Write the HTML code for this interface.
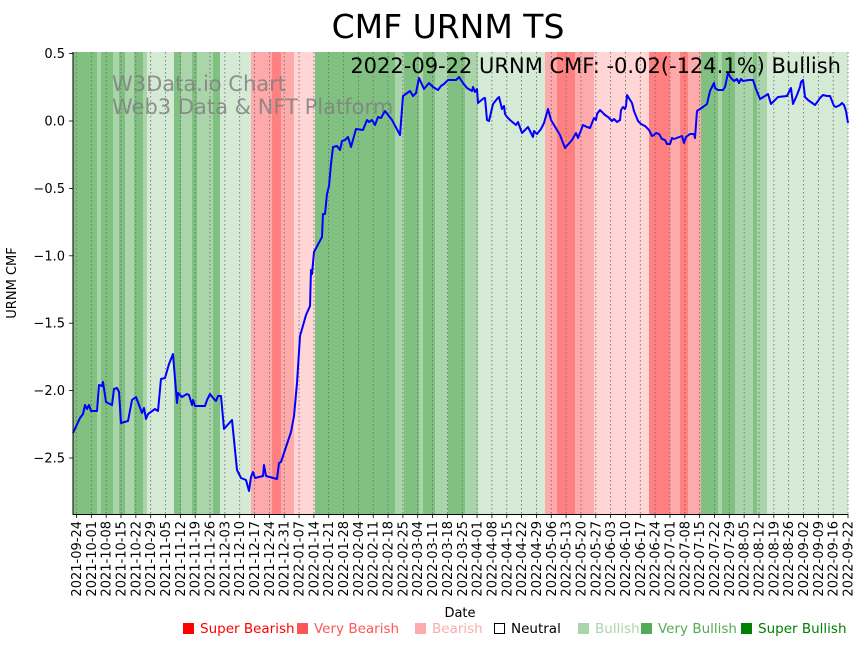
<!DOCTYPE html>
<html><head><meta charset="utf-8"><style>
body{margin:0;background:#fff;}
svg{display:block;font-family:"DejaVu Sans","Liberation Sans",sans-serif;}
</style></head><body>
<svg id="s" width="867" height="646" viewBox="0 0 867 646" xmlns="http://www.w3.org/2000/svg">
<rect width="867" height="646" fill="#fff"/>
<g id="bands"></g>
<g id="grid"></g>
<text x="112" y="91" font-size="21" fill="#808080" fill-opacity="0.85">W3Data.io Chart</text>
<text x="112" y="114" font-size="21" fill="#808080" fill-opacity="0.85">Web3 Data &amp; NFT Platform</text>
<polyline fill="none" stroke="#0000ff" stroke-width="2" stroke-linejoin="round" points="73,433 80,418 83,414 85,405 87,409 89,405 91,411 97,411 99,385 102,386 103,382 106,402 112,405 114,389 117,388 119,392 121,423 128,421 132,400 136,397 142,413 144,408 146,419 148,414 155,409 158,411 161,379 165,378 169,364 173,354 177,403 178,393 182,397 187,394 189,395 192,405 193,400 195,406 205,406 207,400 210,394 214,399 216,401 218,396 221,396 224,429 232,420 237,470 241,478 246,480 249,491 251,477 253,472 255,478 263,476 264,465 266,476 277,479 279,463 281,462 286,447 291,432 294,416 297,383 300,336 306,315 310,306 311,270 312,274 314,252 322,237 323,214 325,214 327,194 329,186 331,164 333,147 337,146 340,150 342,141 345,140 348,137 351,147 356,129 363,130 367,120 369,122 372,120 375,125 378,117 381,118 385,111 392,120 400,135 403,96 410,91 413,96 416,93 419,78 424,89 429,83 433,87 438,90 441,86 444,84 448,80 456,80 459,77 463,83 467,88 472,91 473,87 475,92 477,89 478,103 484,98 485,98 487,120 489,121 493,104 497,99 499,97 502,109 504,106 505,114 507,117 510,120 516,125 518,122 522,133 526,129 528,127 533,137 534,131 537,134 541,129 544,123 548,109 551,120 560,135 565,148 572,140 576,133 578,138 583,125 587,127 590,128 594,118 596,120 597,114 600,110 605,115 608,117 612,121 614,119 617,122 620,120 621,110 623,107 625,109 626,106 627,95 632,103 634,111 638,121 641,124 645,126 649,130 652,136 654,135 656,133 659,134 662,139 665,140 667,144 670,144 672,138 674,139 682,136 684,143 686,137 690,134 694,134 695,138 697,111 700,109 703,107 707,104 710,91 714,83 715,88 718,90 723,90 725,87 728,73 731,78 734,81 737,79 739,83 741,79 743,81 749,80 753,80 756,89 760,99 765,96 768,94 771,104 774,101 778,97 787,96 791,88 793,104 797,95 800,87 801,82 803,80 805,97 808,100 815,105 818,101 820,98 823,95 827,96 830,96 834,106 836,107 840,105 842,103 844,105 846,111 848,123"/>
<text x="841" y="73" font-size="21" text-anchor="end" fill="#000">2022-09-22 URNM CMF: -0.02(-124.1%) Bullish</text>
<text x="448" y="38" font-size="33" text-anchor="middle" fill="#000">CMF URNM TS</text>
<line x1="73" y1="52" x2="73" y2="514.5" stroke="#000" stroke-width="1"/>
<line x1="72.5" y1="514.5" x2="848" y2="514.5" stroke="#000" stroke-width="1"/>
<g id="yt" font-size="13" text-anchor="end"></g>
<g id="xt" font-size="13"></g>
<text x="16" y="283" font-size="13" text-anchor="middle" transform="rotate(-90 16 283)">URNM CMF</text>
<text x="460" y="617" font-size="13" text-anchor="middle">Date</text>
<g font-size="13.5">
<rect x="183" y="623" width="11" height="11" fill="#ff0000"/><text x="200" y="633" fill="#ff0000">Super Bearish</text>
<rect x="297" y="623" width="11" height="11" fill="#ff5555"/><text x="314" y="633" fill="#ff5555">Very Bearish</text>
<rect x="415" y="623" width="11" height="11" fill="#ffaaaa"/><text x="432" y="633" fill="#ffaaaa">Bearish</text>
<rect x="494.5" y="623.5" width="10" height="10" fill="#fff" stroke="#000"/><text x="511" y="633" fill="#000">Neutral</text>
<rect x="578" y="623" width="11" height="11" fill="#aad5aa"/><text x="595" y="633" fill="#aad5aa">Bullish</text>
<rect x="641" y="623" width="11" height="11" fill="#55aa55"/><text x="658" y="633" fill="#55aa55">Very Bullish</text>
<rect x="741" y="623" width="11" height="11" fill="#008000"/><text x="758" y="633" fill="#008000">Super Bullish</text>
</g>
</svg>
<script>
var NS="http://www.w3.org/2000/svg";
function el(p,t,a,txt){var e=document.createElementNS(NS,t);for(var k in a)e.setAttribute(k,a[k]);if(txt!=null)e.textContent=txt;document.getElementById(p).appendChild(e);return e;}
var D="#80c080",M="#aad5aa",L="#d5ead5",DR="#ff8080",MR="#ffaaaa",LR="#ffd5d5";
var b=[[73,97,D],[97,101,M],[101,113,D],[113,119,M],[119,125,D],[125,134,M],[134,143,D],[143,147,M],[147,174,L],[174,181,D],[181,192,M],[192,197,D],[197,213,M],[213,220,D],[220,251,L],[251,272,MR],[272,281,DR],[281,294,MR],[294,315,LR],[315,395,D],[395,404,M],[404,419,D],[419,423,M],[423,435,D],[435,448,M],[448,465,D],[465,478,M],[478,545,L],[545,557,MR],[557,575,DR],[575,594,MR],[594,649,LR],[649,670,DR],[670,680,MR],[680,688,DR],[688,701,MR],[701,718,D],[718,722,M],[722,735,D],[735,753,M],[753,757,D],[757,767,M],[767,848,L]];
b.forEach(function(x){el("bands","rect",{x:x[0],y:52,width:x[1]-x[0],height:462,fill:x[2]});});
var start=new Date(Date.UTC(2021,8,24));
for(var i=0;i<53;i++){
 var x=76.5+i*(771.5/52);
 var s;
 if(i==52){s="2022-09-22";}else{var d=new Date(start.getTime()+i*7*864e5);s=d.toISOString().slice(0,10);}
 el("grid","line",{x1:x,y1:52,x2:x,y2:514,stroke:"#666","stroke-width":0.8,"stroke-dasharray":"1.5,2.5"});
 el("xt","line",{x1:x,y1:514,x2:x,y2:518,stroke:"#000","stroke-width":0.8});
 el("xt","text",{x:0,y:0,"text-anchor":"end",transform:"translate("+(x+4.5)+",521) rotate(-90)"},s);
}
var yv=[0.5,0,-0.5,-1,-1.5,-2,-2.5];
yv.forEach(function(v){var y=121-v*134.8;
 el("yt","line",{x1:69,y1:y,x2:73,y2:y,stroke:"#000","stroke-width":0.8});
 el("yt","text",{x:65,y:y+4.5},(v<0?"\u2212"+(-v).toFixed(1):v.toFixed(1)));});
</script>
</body></html>
